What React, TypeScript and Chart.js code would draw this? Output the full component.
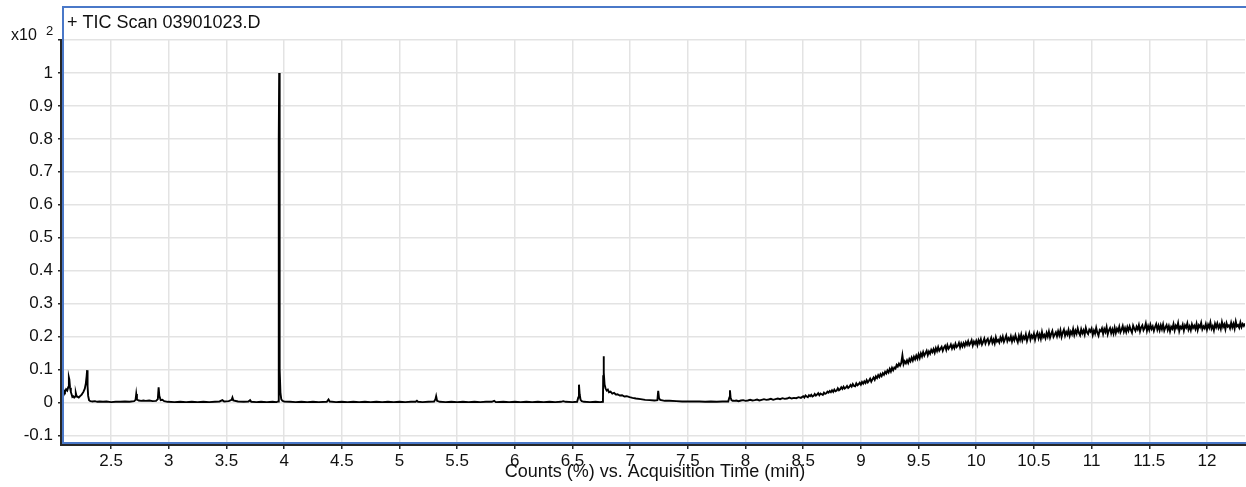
import { useEffect, useRef } from "react";
import { Chart, registerables } from "chart.js";

Chart.register(...registerables);

// ---- DATA ----
const chartTitle = "+ TIC Scan 03901023.D";
const xAxisTitle = "Counts (%) vs. Acquisition Time (min)";
const yScaleLabel = "x10";
const yScaleExponent = "2";

// x tick positions (min) and labels
const xTickValues = [2.5, 3, 3.5, 4, 4.5, 5, 5.5, 6, 6.5, 7, 7.5, 8, 8.5, 9, 9.5, 10, 10.5, 11, 11.5, 12];
const xTickLabels = ["2.5", "3", "3.5", "4", "4.5", "5", "5.5", "6", "6.5", "7", "7.5", "8", "8.5", "9", "9.5", "10", "10.5", "11", "11.5", "12"];
// y tick positions (x10^2 counts %) and labels
const yTickValues = [-0.1, 0, 0.1, 0.2, 0.3, 0.4, 0.5, 0.6, 0.7, 0.8, 0.9, 1, 1.1];
const yTickLabels = ["-0.1", "0", "0.1", "0.2", "0.3", "0.4", "0.5", "0.6", "0.7", "0.8", "0.9", "1", ""];

// early part of the run: [time (min), counts (%)]
const earlySamples: [number, number][] = [
  [2.083, 3.3], [2.092, 3.6], [2.1, 3.2], [2.11, 4.0], [2.12, 3.6], [2.128, 4.6], [2.134, 7.6], [2.138, 7.0],
  [2.144, 4.5], [2.151, 3.2], [2.158, 2.4], [2.164, 1.7], [2.172, 1.9], [2.18, 1.5], [2.188, 1.8], [2.194, 2.9],
  [2.2, 2.0], [2.211, 1.7], [2.22, 1.5], [2.231, 1.9], [2.245, 2.4], [2.26, 3.2], [2.272, 4.2], [2.281, 5.8],
  [2.288, 8.0], [2.292, 9.8], [2.296, 5.0], [2.301, 2.0], [2.309, 0.7], [2.32, 0.4], [2.34, 0.3], [2.36, 0.4],
  [2.38, 0.2], [2.4, 0.3], [2.43, 0.2], [2.46, 0.3], [2.5, 0.1], [2.54, 0.2], [2.58, 0.2], [2.62, 0.3],
  [2.66, 0.2], [2.7, 0.4], [2.712, 0.8], [2.718, 2.6], [2.724, 0.9], [2.74, 0.6], [2.76, 0.5], [2.78, 0.6],
  [2.8, 0.5], [2.83, 0.6], [2.86, 0.4], [2.89, 0.5], [2.905, 1.0], [2.912, 4.6], [2.918, 2.0], [2.93, 0.7],
  [2.945, 0.8], [2.96, 0.4], [2.99, 0.2], [3.05, 0.1], [3.1, 0.2], [3.15, 0.1], [3.2, 0.2], [3.25, 0.1],
  [3.3, 0.2], [3.35, 0.1], [3.4, 0.2], [3.44, 0.3], [3.465, 0.7], [3.48, 0.3], [3.52, 0.4], [3.545, 0.8],
  [3.552, 1.5], [3.56, 0.6], [3.6, 0.3], [3.65, 0.2], [3.69, 0.3], [3.705, 0.7], [3.715, 0.2], [3.76, 0.1],
  [3.8, 0.2], [3.85, 0.1], [3.9, 0.2], [3.935, 0.1], [3.948, 0.3], [3.952, 30], [3.955, 80], [3.957, 100],
  [3.959, 60], [3.961, 28], [3.964, 10], [3.968, 3.0], [3.975, 1.0], [3.985, 0.5], [4.0, 0.3], [4.05, 0.2],
  [4.1, 0.1], [4.15, 0.2], [4.2, 0.1], [4.25, 0.2], [4.3, 0.1], [4.37, 0.2], [4.385, 0.9], [4.395, 0.3],
  [4.45, 0.1], [4.5, 0.2], [4.55, 0.1], [4.6, 0.2], [4.65, 0.1], [4.7, 0.2], [4.75, 0.1], [4.8, 0.2],
  [4.85, 0.1], [4.9, 0.2], [4.95, 0.1], [5.0, 0.2], [5.05, 0.1], [5.1, 0.2], [5.14, 0.2], [5.151, 0.5],
  [5.16, 0.2], [5.2, 0.1], [5.25, 0.2], [5.3, 0.3], [5.312, 1.0], [5.318, 1.9], [5.326, 0.5], [5.35, 0.2],
  [5.4, 0.1], [5.45, 0.2], [5.5, 0.1], [5.55, 0.2], [5.6, 0.1], [5.65, 0.2], [5.7, 0.1], [5.75, 0.2],
  [5.8, 0.2], [5.821, 0.5], [5.835, 0.1], [5.9, 0.2], [5.95, 0.1], [6.0, 0.2], [6.05, 0.1], [6.1, 0.2],
  [6.15, 0.1], [6.2, 0.2], [6.25, 0.1], [6.3, 0.2], [6.35, 0.1], [6.4, 0.2], [6.42, 0.4], [6.44, 0.2],
  [6.5, 0.1], [6.54, 0.2], [6.55, 1.5], [6.556, 5.4], [6.562, 2.5], [6.57, 0.8], [6.58, 0.4], [6.6, 0.2],
  [6.65, 0.1], [6.7, 0.2], [6.74, 0.1], [6.764, 0.2], [6.766, 8.0], [6.769, 14.0], [6.773, 9.0], [6.778, 5.5],
  [6.786, 4.3], [6.796, 3.6], [6.806, 3.9], [6.816, 3.1], [6.83, 3.3], [6.845, 2.7], [6.86, 2.9], [6.875, 2.4],
  [6.89, 2.5], [6.91, 2.1], [6.93, 2.2], [6.95, 1.8], [6.97, 1.9], [6.995, 1.6], [7.02, 1.4], [7.05, 1.2],
  [7.09, 1.0], [7.13, 0.8], [7.17, 0.7], [7.21, 0.6], [7.236, 0.7], [7.243, 3.5], [7.25, 1.3], [7.26, 0.8],
  [7.3, 0.5], [7.34, 0.5], [7.4, 0.4], [7.45, 0.3], [7.5, 0.3], [7.55, 0.3], [7.6, 0.3], [7.65, 0.2],
  [7.7, 0.3], [7.75, 0.2], [7.8, 0.3], [7.85, 0.3], [7.86, 1.5], [7.865, 3.7], [7.87, 1.6], [7.878, 0.7],
  [7.888, 0.5], [7.9, 0.5], [7.92, 0.6], [7.94, 0.4], [7.96, 0.6], [7.98, 0.7], [8.0, 0.5], [8.02, 0.6],
  [8.04, 0.8], [8.06, 0.6], [8.08, 0.7], [8.1, 0.9], [8.12, 0.6], [8.14, 0.8], [8.16, 1.0], [8.18, 0.8],
  [8.2, 0.9], [8.22, 1.1], [8.24, 0.8], [8.26, 1.0], [8.28, 1.2], [8.3, 1.0], [8.32, 1.3], [8.34, 1.1],
  [8.36, 1.2], [8.38, 1.5], [8.4, 1.2], [8.42, 1.4], [8.44, 1.3], [8.46, 1.6], [8.48, 1.4],
];

// late part of the run, sampled every riseStep min from riseStart: counts (%)
const riseStart = 8.5;
const riseStep = 0.01;
const risePct = [
  1.9, 1.5, 2.1, 1.8, 1.6, 2.2, 1.9, 2.3, 1.8, 2.0,
  2.6, 2.1, 2.4, 2.8, 2.2, 2.7, 2.5, 2.3, 3.0, 2.6,
  2.8, 3.3, 3.0, 3.5, 3.1, 3.7, 3.2, 3.9, 3.4, 3.6,
  4.3, 3.7, 4.0, 4.6, 4.1, 4.8, 4.2, 4.5, 5.0, 4.4,
  4.7, 5.3, 4.8, 5.6, 5.0, 4.9, 5.8, 5.2, 5.5, 6.0,
  5.4, 6.2, 5.7, 6.4, 5.9, 6.8, 6.1, 6.6, 7.2, 6.3,
  7.0, 7.6, 6.9, 7.9, 7.4, 8.3, 7.7, 8.6, 8.0, 8.9,
  8.4, 9.3, 8.8, 9.7, 9.1, 10.2, 9.4, 10.5, 9.8, 10.6,
  10.3, 11.4, 10.9, 11.8, 11.2, 12.0, 14.3, 11.6, 12.5, 11.9,
  12.8, 12.0, 13.2, 12.5, 13.6, 12.7, 13.9, 13.1, 14.2, 13.3,
  14.6, 13.5, 14.9, 14.0, 15.3, 14.2, 15.0, 15.7, 14.4, 15.5,
  14.8, 16.0, 15.3, 16.2, 15.1, 16.5, 15.6, 16.8, 15.7, 16.3,
  16.9, 15.7, 16.6, 17.2, 16.0, 17.4, 16.3, 16.8, 17.6, 16.4,
  17.3, 16.5, 17.8, 16.8, 17.2, 18.1, 16.7, 17.9, 17.0, 18.0,
  17.1, 18.3, 17.5, 18.6, 17.4, 18.0, 18.9, 17.3, 18.5, 17.8,
  18.7, 17.4, 18.9, 18.0, 19.2, 17.6, 18.4, 19.4, 17.9, 18.8,
  19.3, 17.8, 18.6, 19.6, 18.1, 19.1, 17.9, 19.8, 18.5, 19.0,
  18.2, 19.7, 18.8, 20.0, 18.4, 19.3, 20.3, 18.6, 19.5, 18.9,
  20.1, 18.5, 19.8, 18.9, 20.4, 19.2, 18.3, 20.2, 19.0, 20.6,
  18.8, 20.0, 19.3, 20.7, 18.7, 19.9, 21.0, 19.1, 20.3, 19.6,
  20.9, 19.0, 20.4, 21.2, 19.5, 20.7, 19.3, 21.4, 19.8, 20.5,
  19.5, 21.1, 20.0, 21.5, 19.7, 20.8, 21.7, 19.9, 20.6, 21.3,
  20.1, 21.6, 20.4, 21.9, 19.9, 21.2, 22.1, 20.3, 21.4, 20.6,
  22.0, 20.2, 21.5, 20.7, 22.3, 20.5, 21.8, 20.9, 22.5, 21.1,
  20.4, 22.2, 21.0, 21.9, 20.6, 22.6, 21.3, 20.8, 22.1, 21.5,
  22.4, 20.5, 21.8, 20.9, 22.7, 21.2, 20.3, 22.0, 21.6, 22.5,
  20.8, 22.3, 21.4, 22.9, 20.7, 21.9, 22.6, 21.0, 22.2, 20.9,
  22.7, 21.1, 22.4, 21.6, 23.0, 21.3, 22.1, 23.2, 21.5, 22.6,
  21.4, 22.9, 21.8, 23.1, 22.0, 21.2, 23.3, 22.4, 21.7, 23.0,
  22.2, 23.5, 21.6, 22.8, 23.4, 21.9, 22.6, 24.0, 21.8, 23.2,
  22.0, 23.6, 22.3, 23.1, 21.7, 22.9, 23.8, 22.1, 23.3, 21.9,
  23.4, 22.2, 23.7, 21.8, 22.8, 23.5, 22.0, 23.2, 21.6, 23.0,
  22.4, 23.8, 21.9, 23.3, 22.6, 24.1, 21.7, 23.0, 22.5, 23.6,
  21.8, 23.4, 22.7, 24.0, 22.1, 23.1, 21.9, 23.7, 22.6, 23.3,
  22.3, 23.9, 22.0, 23.4, 22.8, 24.2, 22.2, 23.1, 22.5, 23.8,
  22.1, 23.6, 22.7, 24.3, 22.4, 23.2, 21.9, 23.9, 22.8, 24.0,
  22.6, 23.5, 22.3, 24.4, 22.9, 23.7, 22.2, 24.1, 23.0, 23.4,
  22.5, 24.2, 22.8, 23.9, 22.4, 24.6, 23.1, 23.5, 22.7, 24.3,
  22.9, 23.8, 23.2, 24.0, 22.8,
];

// ---- CONFIG ----
const X_MIN = 2.083;
const X_MAX = 12.33;
const Y_MIN = -0.123;
const Y_MAX = 1.1;
const FONT = '"Liberation Sans", Arial, Helvetica, sans-serif';
const BLUE = "#4a78c8";
const AXIS = "#262626";

export default function App() {
  const canvasRef = useRef<HTMLCanvasElement | null>(null);

  useEffect(() => {
    document.body.style.margin = "0";
    const canvas = canvasRef.current;
    if (!canvas) return;

    const points = [
      ...earlySamples.map(([t, p]) => ({ x: t, y: p / 100 })),
      ...risePct.map((p, i) => ({ x: riseStart + i * riseStep, y: p / 100 })),
    ];

    const decor = {
      id: "decor",
      afterDraw(chart: any) {
        const { ctx, chartArea } = chart;
        const { left, top, right, bottom } = chartArea;
        ctx.save();
        // blue frame
        ctx.strokeStyle = BLUE;
        ctx.lineWidth = 2;
        ctx.beginPath();
        ctx.moveTo(1246, 7);
        ctx.lineTo(left, 7);
        ctx.lineTo(left, bottom);
        ctx.lineTo(1246, bottom);
        ctx.stroke();
        // black axes
        ctx.strokeStyle = AXIS;
        ctx.lineWidth = 2;
        ctx.beginPath();
        ctx.moveTo(left - 2, top);
        ctx.lineTo(left - 2, bottom + 2);
        ctx.lineTo(right + 2, bottom + 2);
        ctx.stroke();
        // title
        ctx.fillStyle = "#111";
        ctx.textAlign = "left";
        ctx.textBaseline = "alphabetic";
        ctx.font = `18px ${FONT}`;
        ctx.fillText(chartTitle, 67, 28);
        // y scale multiplier
        ctx.font = `16px ${FONT}`;
        ctx.fillText(yScaleLabel, 11, 40);
        ctx.font = `13px ${FONT}`;
        ctx.fillText(yScaleExponent, 46, 35);
        // x axis title
        ctx.font = `18px ${FONT}`;
        ctx.textAlign = "center";
        ctx.fillText(xAxisTitle, 655, 477);
        ctx.restore();
      },
    };

    const chart = new Chart(canvas, {
      type: "line",
      data: {
        datasets: [
          {
            data: points,
            borderColor: "#000",
            borderWidth: 1.9,
            pointRadius: 0,
            tension: 0,
            fill: false,
          },
        ],
      },
      options: {
        animation: false,
        responsive: false,
        devicePixelRatio: 1,
        normalized: true,
        layout: { padding: { top: 40, right: 1, left: 0, bottom: 0 } },
        plugins: { legend: { display: false }, tooltip: { enabled: false }, title: { display: false } },
        scales: {
          x: {
            type: "linear",
            min: X_MIN,
            max: X_MAX,
            afterBuildTicks: (s: any) => {
              s.ticks = xTickValues.map((v) => ({ value: v }));
            },
            afterFit: (s: any) => {
              s.height = 44;
            },
            border: { display: false },
            grid: { color: "#e3e3e3", lineWidth: 1.5, tickColor: AXIS, tickLength: 6, drawTicks: true },
            ticks: {
              autoSkip: false,
              maxRotation: 0,
              padding: 2,
              color: "#111",
              font: { family: FONT, size: 17 },
              callback: (_v: any, i: number) => xTickLabels[i],
            },
          },
          y: {
            type: "linear",
            min: Y_MIN,
            max: Y_MAX,
            afterBuildTicks: (s: any) => {
              s.ticks = yTickValues.map((v) => ({ value: v }));
            },
            afterFit: (s: any) => {
              s.width = 63;
            },
            border: { display: false },
            grid: { color: "#e3e3e3", lineWidth: 1.5, tickColor: AXIS, tickLength: 5, drawTicks: true },
            ticks: {
              autoSkip: false,
              padding: 5,
              color: "#111",
              font: { family: FONT, size: 17 },
              callback: (_v: any, i: number) => yTickLabels[i],
            },
          },
        },
      },
      plugins: [decor],
    } as any);

    return () => chart.destroy();
  }, []);

  return (
    <div style={{ width: 1246, height: 487, position: "relative" }}>
      <canvas ref={canvasRef} width={1246} height={487} style={{ display: "block" }} />
    </div>
  );
}
